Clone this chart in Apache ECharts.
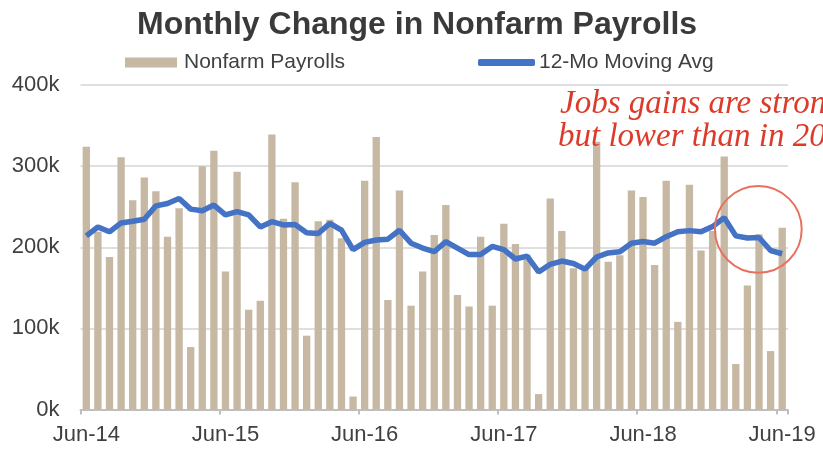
<!DOCTYPE html>
<html>
<head>
<meta charset="utf-8">
<script src="https://cdn.jsdelivr.net/npm/echarts@6/dist/echarts.min.js"></script>
<style>html,body{margin:0;padding:0;background:#fff;}#c{width:823px;height:451px;}</style>
</head>
<body>
<div id="c"></div>
<script>
const categories = ['Jun-14','Jul-14','Aug-14','Sep-14','Oct-14','Nov-14','Dec-14','Jan-15','Feb-15','Mar-15','Apr-15','May-15',
 'Jun-15','Jul-15','Aug-15','Sep-15','Oct-15','Nov-15','Dec-15','Jan-16','Feb-16','Mar-16','Apr-16','May-16',
 'Jun-16','Jul-16','Aug-16','Sep-16','Oct-16','Nov-16','Dec-16','Jan-17','Feb-17','Mar-17','Apr-17','May-17',
 'Jun-17','Jul-17','Aug-17','Sep-17','Oct-17','Nov-17','Dec-17','Jan-18','Feb-18','Mar-18','Apr-18','May-18',
 'Jun-18','Jul-18','Aug-18','Sep-18','Oct-18','Nov-18','Dec-18','Jan-19','Feb-19','Mar-19','Apr-19','May-19','Jun-19'];
const payrolls = [324,219,188,311,258,286,269,213,248,77,300,319,
 170,293,123,134,339,235,280,91,232,234,211,16,
 282,336,135,270,128,170,215,252,141,127,213,128,
 229,204,190,19,260,220,174,175,330,182,190,270,
 262,178,282,108,277,196,220,312,56,153,216,72,224];
const movingAvg = [214,225,219,230,232,234.5,251,254,260,247,245,252,
 240,244,240,225,231.5,227.5,228,218,217,229.5,221,197,
 206,209,210,221,205,199,194.5,207,199,191,191,201,
 197,185.5,189,169.5,179,183,180,173,188,193,194.5,205,
 207,205,213,219,220.5,219,225.5,236.5,214,211.5,212,196,192];
const yTicks = [0,100,200,300,400];
const titleText = 'Monthly Change in Nonfarm Payrolls';
const noteLines = ['Jobs gains are strong', 'but lower than in 2018'];

const chart = echarts.init(document.getElementById('c'), null, {renderer:'canvas'});
const sans = 'Liberation Sans, Arial, sans-serif';
const textColor = '#404040';
chart.setOption({
  animation:false,
  title:{text:titleText,left:132,top:4,textStyle:{fontFamily:sans,fontSize:32,fontWeight:'bold',color:'#3a3a3a'}},
  legend:[
    {data:[{name:'Nonfarm Payrolls',icon:'rect'}],left:125,top:52,padding:0,itemWidth:52,itemHeight:10,
     textStyle:{fontFamily:sans,fontSize:21,color:textColor,padding:[0,0,0,2]}},
    {data:[{name:'12-Mo Moving Avg',icon:'roundRect'}],left:478,top:52,padding:0,itemWidth:57,itemHeight:7,
     textStyle:{fontFamily:sans,fontSize:21,color:textColor,padding:[0,0,0,-1]}}
  ],
  grid:{left:80.5,right:35,top:85,bottom:41.5,containLabel:false},
  xAxis:{type:'category',data:categories,boundaryGap:true,
    axisLine:{lineStyle:{color:'#bfbfbf',width:2}},
    axisTick:{show:true,alignWithLabel:false,interval:function(i){return i%12===0;},length:5,lineStyle:{color:'#bfbfbf',width:2}},
    axisLabel:{interval:function(i){return i%12===0;},fontFamily:sans,fontSize:22,color:textColor,margin:14}},
  yAxis:{type:'value',min:yTicks[0],max:yTicks[yTicks.length-1],interval:100,
    axisLine:{show:false},axisTick:{show:false},
    axisLabel:{formatter:'{value}k',fontFamily:sans,fontSize:22,color:textColor,margin:21},
    splitLine:{lineStyle:{color:'#d4d4d4',width:1.5}}},
  series:[
    {name:'Nonfarm Payrolls',type:'bar',data:payrolls,barWidth:'63%',itemStyle:{color:'#c6b8a2'}},
    {name:'12-Mo Moving Avg',type:'line',data:movingAvg,symbol:'none',lineStyle:{color:'#4472c4',width:5.5},itemStyle:{color:'#4472c4'},z:3}
  ],
  graphic:[
    {type:'text',left:560,top:88,z:10,style:{text:noteLines[0],font:'italic 33px "Liberation Serif", serif',fill:'#dc3b2a'}},
    {type:'text',left:558,top:121,z:10,style:{text:noteLines[1],font:'italic 33px "Liberation Serif", serif',fill:'#dc3b2a'}},
    {type:'circle',shape:{cx:758.3,cy:229.3,r:43.4},z:10,style:{fill:'none',stroke:'#e8705e',lineWidth:2}}
  ]
});
</script>
</body>
</html>
